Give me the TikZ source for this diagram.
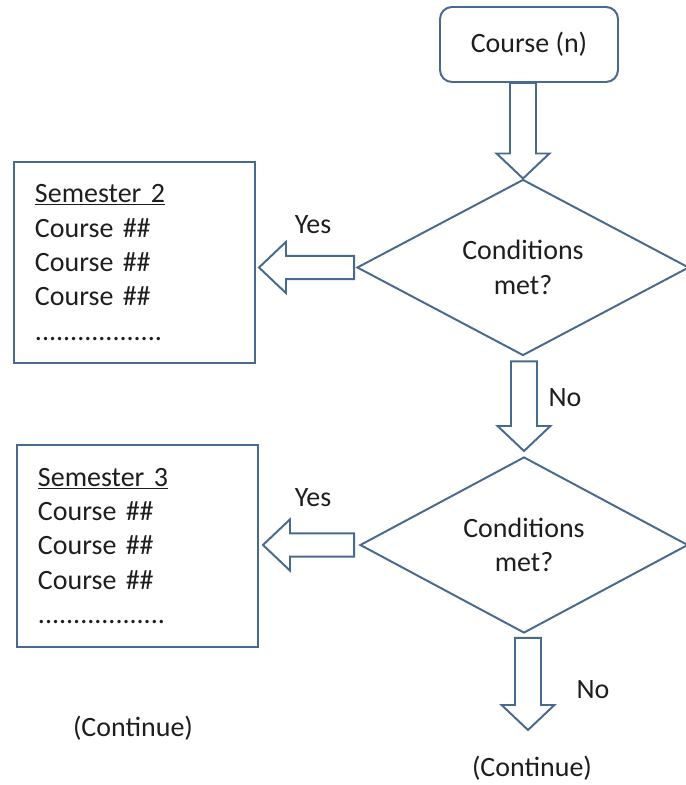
\documentclass[tikz,border=0pt]{standalone}
\usepackage{fontspec}
\setmainfont{Carlito}
\usetikzlibrary{shapes.geometric,calc}

\definecolor{flowblue}{RGB}{72,106,140}
\definecolor{inkgray}{RGB}{30,30,30}

\tikzset{
  flowline/.style={draw=flowblue, line width=1.4pt, line join=miter},
  startbox/.style={flowline, rounded corners=0.3cm, minimum width=4.45cm, minimum height=1.875cm},
  decision/.style={flowline, diamond, minimum width=8.3cm, minimum height=4.4cm, inner sep=0pt, align=center},
  listbox/.style={flowline, rectangle, text width=4.975cm, inner xsep=0.525cm, minimum height=5.05cm, align=left},
}

% hollow block arrows
\newcommand{\flowdown}[2]{%
  \draw[flowline] let \p1=(#1), \p2=(#2) in
    (\x2-0.325cm,\y1) -- (\x2-0.325cm,\y2+0.625cm) -- (\x2-0.66cm,\y2+0.625cm) -- (\x2,\y2)
    -- (\x2+0.66cm,\y2+0.625cm) -- (\x2+0.325cm,\y2+0.625cm) -- (\x2+0.325cm,\y1) -- cycle;}
\newcommand{\flowleft}[2]{%
  \draw[flowline] let \p1=(#1), \p2=(#2) in
    (\x1,\y1+0.29cm) -- (\x2+0.675cm,\y1+0.29cm) -- (\x2+0.675cm,\y1+0.64cm) -- (\x2,\y1)
    -- (\x2+0.675cm,\y1-0.64cm) -- (\x2+0.675cm,\y1-0.29cm) -- (\x1,\y1-0.29cm) -- cycle;}

\begin{document}
\begin{tikzpicture}[every node/.style={text=inkgray, font=\fontsize{19.9}{24.5}\selectfont}]
\useasboundingbox (0,0) rectangle (17.15,19.625);

\node [startbox] (course) at (13.225,18.5125) {Course (n)};
\node [decision] (cond1) at (13.075,12.9375) {Conditions\\met?};
\node [decision, minimum width=8.2cm] (cond2) at (13.1,6.0) {Conditions\\met?};

\node [listbox, minimum height=5.025cm] (sem2) at (3.3625,13.0625)
  {\underline{Semester 2}\\Course \#\#\\Course \#\#\\Course \#\#\\..................};
\node [listbox] (sem3) at (3.4375,5.975)
  {\underline{Semester 3}\\Course \#\#\\Course \#\#\\Course \#\#\\..................};

\coordinate (stop) at (13.2,1.375);

\flowdown{course.south}{cond1.north}
\flowdown{[yshift=-0.125cm]cond1.south}{[yshift=0.125cm]cond2.north}
\flowdown{[yshift=-0.1cm]cond2.south}{stop}
\flowleft{[xshift=-0.05cm]cond1.west}{[xshift=0.075cm]sem2.east}
\flowleft{[xshift=-0.125cm]cond2.west}{[xshift=0.1cm]sem3.east}

\node (yes1) at (7.825,14.0) {Yes};
\node (yes2) at (7.825,7.175) {Yes};
\node (no1) at (14.125,9.675) {No};
\node (no2) at (14.825,2.375) {No};
\node (cont1) at (3.325,1.425) {(Continue)};
\node (cont2) at (13.3,0.42) {(Continue)};
\end{tikzpicture}
\end{document}
